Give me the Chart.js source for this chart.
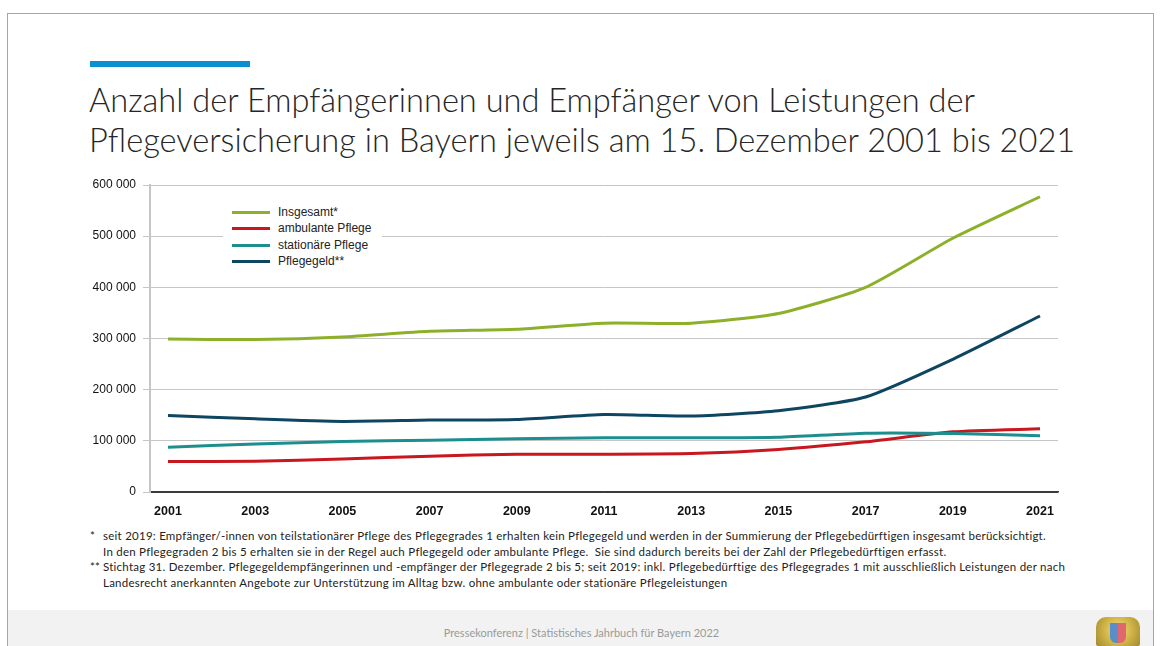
<!DOCTYPE html>
<html lang="de">
<head>
<meta charset="utf-8">
<script src="https://cdn.jsdelivr.net/npm/chart.js@4"></script>
<style>
  html, body { margin:0; padding:0; background:#fff; }
  body { width:1162px; height:646px; position:relative; overflow:hidden; font-family: Lato, "Open Sans", sans-serif; }
  #frame { position:absolute; left:7px; top:13px; width:1147px; height:640px; border:1px solid #a6a6a6; box-sizing:border-box; }
  #footer { position:absolute; left:8px; top:610px; width:1145px; height:40px; background:#f2f2f2; }
  #footer span { position:absolute; left:0; right:0; top:16px; text-align:center; font-size:11px; color:#9a9a9a; font-family: Lato, sans-serif; padding-left:2px; }
  #bar { position:absolute; left:90px; top:61px; width:160px; height:6px; background:#0a8fd0; }
  #title { position:absolute; left:89px; top:80px; font-size:32.6px; line-height:40px; color:#262626; font-weight:300; white-space:nowrap; font-family: Lato, sans-serif; }
  #chartWrap { position:absolute; left:80px; top:170px; width:1000px; height:350px; }
  #legend { position:absolute; left:223px; top:202px; width:159px; height:68px; background:#fff; font-family:"Liberation Sans", Arial, sans-serif; font-size:12px; color:#222; }
  .li { position:absolute; left:9px; height:16px; }
  .li i { position:absolute; left:0; top:7px; width:38px; height:3px; }
  .li b { position:absolute; left:46px; top:0; font-weight:normal; white-space:nowrap; line-height:16px; }
  #notes { position:absolute; left:90px; top:528px; font-size:11.5px; letter-spacing:0.25px; line-height:15.5px; color:#222; font-family: Lato, sans-serif; white-space:nowrap; }
  #notes div { position:relative; padding-left:13px; }
  #notes .m { position:absolute; left:0; letter-spacing:0; }
  #emblem { position:absolute; left:1096px; top:617px; width:44px; height:29px; border-radius:10px 10px 2px 2px; background:radial-gradient(circle at 50% 45%, #eedd88 0%, #d2b546 50%, #a08a30 100%); }
  #emblem div { position:absolute; left:14px; top:6px; width:16px; height:20px; background:linear-gradient(90deg,#5a8ec8 50%, #e0686c 50%); border-radius:0 0 6px 6px; }
</style>
</head>
<body>
<div id="frame"></div>
<div id="footer"><span>Pressekonferenz | Statistisches Jahrbuch für Bayern 2022</span></div>
<div id="emblem"><div></div></div>
<div id="bar"></div>
<div id="title">Anzahl der Empfängerinnen und Empfänger von Leistungen der<br>Pflegeversicherung in Bayern jeweils am 15. Dezember 2001 bis 2021</div>
<div id="chartWrap"><canvas id="c" width="1000" height="350"></canvas></div>
<div id="legend"></div>
<div id="notes">
  <div><span class="m">*</span>seit 2019: Empfänger/-innen von teilstationärer Pflege des Pflegegrades 1 erhalten kein Pflegegeld und werden in der Summierung der Pflegebedürftigen insgesamt berücksichtigt.</div>
  <div>In den Pflegegraden 2 bis 5 erhalten sie in der Regel auch Pflegegeld oder ambulante Pflege.&nbsp; Sie sind dadurch bereits bei der Zahl der Pflegebedürftigen erfasst.</div>
  <div><span class="m">**</span>Stichtag 31. Dezember. Pflegegeldempfängerinnen und -empfänger der Pflegegrade 2 bis 5; seit 2019: inkl. Pflegebedürftige des Pflegegrades 1 mit ausschließlich Leistungen der nach</div>
  <div>Landesrecht anerkannten Angebote zur Unterstützung im Alltag bzw. ohne ambulante oder stationäre Pflegeleistungen</div>
</div>
<script>
const years = [2001, 2003, 2005, 2007, 2009, 2011, 2013, 2015, 2017, 2019, 2021];
const insgesamt = [299000, 298000, 303000, 314000, 318000, 330000, 330000, 349000, 400000, 496000, 577000];
const ambulant = [59500, 60100, 64700, 69900, 73900, 73900, 75200, 83000, 98000, 117600, 123500];
const stationaer = [87600, 94000, 98700, 101300, 104000, 106000, 105900, 107000, 115000, 114400, 109800];
const pflegegeld = [149700, 143000, 138000, 140500, 141800, 151600, 148500, 158900, 185600, 259400, 344000];
const seriesNames = ["Insgesamt*", "ambulante Pflege", "stationäre Pflege", "Pflegegeld**"];
const seriesColors = ["#8db02b", "#c8171e", "#1c8e8e", "#0e4560"];
const yTicks = [0, 100000, 200000, 300000, 400000, 500000, 600000];

const seriesValues = [insgesamt, ambulant, stationaer, pflegegeld];
const datasets = seriesValues.map((vals, i) => ({
  label: seriesNames[i],
  data: vals.map((v, j) => ({ x: years[j], y: v })),
  borderColor: seriesColors[i],
  backgroundColor: seriesColors[i],
  borderWidth: 3,
  pointRadius: 0,
  tension: 0.2,
  fill: false,
  order: 4 - i
}));

// HTML legend
const leg = document.getElementById('legend');
seriesNames.forEach((n, i) => {
  const d = document.createElement('div');
  d.className = 'li';
  d.style.top = (2 + i * 16.4) + 'px';
  d.innerHTML = '<i style="background:' + seriesColors[i] + '"></i><b>' + n + '</b>';
  leg.appendChild(d);
});

const span = years[years.length - 1] - years[0];
const pad = span * 18 / 872;
const fmt = v => String(v).replace(/\B(?=(\d{3})+(?!\d))/g, ' ');

new Chart(document.getElementById('c'), {
  type: 'line',
  data: { datasets },
  options: {
    responsive: false,
    animation: false,
    layout: { padding: { top: 15, right: 22, bottom: 0, left: 0 } },
    plugins: { legend: { display: false }, tooltip: { enabled: false } },
    scales: {
      x: {
        type: 'linear',
        min: years[0] - pad,
        max: years[years.length - 1] + pad,
        afterBuildTicks: s => { s.ticks = years.map(v => ({ value: v })); },
        afterFit: s => { s.height = 28; },
        grid: { display: false, drawTicks: false },
        border: { display: true, color: '#3a3a3a', width: 1.5 },
        ticks: {
          padding: 12,
          autoSkip: false,
          maxRotation: 0,
          color: '#111',
          font: { family: '"Liberation Sans", Arial, sans-serif', size: 12.5, weight: 'bold' },
          callback: v => String(v)
        }
      },
      y: {
        min: 0,
        max: 600000,
        afterBuildTicks: s => { s.ticks = yTicks.map(v => ({ value: v })); },
        afterFit: s => { s.width = 70; },
        grid: {
          color: ctx => (ctx.tick && ctx.tick.value === 0) ? '#3a3a3a' : '#c6c6c6',
          tickColor: '#c6c6c6',
          tickLength: 7,
          lineWidth: 1
        },
        border: { display: true, color: '#c6c6c6', width: 2 },
        ticks: {
          padding: 7,
          color: '#111',
          font: { family: '"Liberation Sans", Arial, sans-serif', size: 12 },
          callback: v => fmt(v)
        }
      }
    }
  }
});
</script>
</body>
</html>
